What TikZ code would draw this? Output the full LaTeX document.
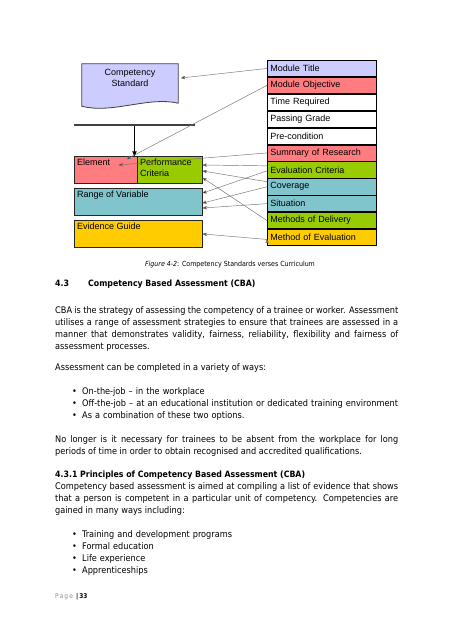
\documentclass[tikz,border=0pt]{standalone}
\usepackage{fontspec}
\setmainfont{DejaVu Sans Condensed}[
	BoldFont={DejaVu Sans Condensed Bold},
	ItalicFont={DejaVu Sans Condensed Oblique}]
\newfontfamily\diafont{Liberation Sans}
\usetikzlibrary{positioning, arrows, backgrounds}

\definecolor{lavender}{HTML}{CCCCFF}
\definecolor{rosepink}{HTML}{FF7C80}
\definecolor{leafgreen}{HTML}{99CC00}
\definecolor{seateal}{HTML}{80C4CC}
\definecolor{goldyellow}{HTML}{FFCC00}

\newcommand{\bul}{\makebox[10pt][l]{\textbullet}}

\tikzset{
	cell/.style={
		rectangle,
		draw=black, line width=0.7pt,
		minimum width=109pt, minimum height=16.2pt,
		text width=103pt, inner xsep=3pt, inner ysep=0pt,
		align=left,
		font=\diafont\fontsize{9}{10.5}\selectfont,
	},
	block/.style={
		rectangle,
		draw=black!85, line width=0.9pt,
		anchor=north west,
		inner sep=0pt,
	},
	blocktext/.style={
		anchor=north west, inner sep=3pt, align=left,
		font=\diafont\fontsize{9}{11}\selectfont,
	},
	link/.style={->, >=stealth', draw=black!55, line width=0.45pt},
	body/.style={
		anchor=base west, inner sep=0pt,
		text width=343pt, align=justify,
		font=\fontsize{9.1}{12}\selectfont,
	},
	head/.style={anchor=base west, inner sep=0pt, font=\bfseries\fontsize{8.7}{12}\selectfont},
}

\begin{document}
\begin{tikzpicture}[x=1pt, y=-1pt]
	\useasboundingbox (0,0) rectangle (453,640);
	\begin{scope}[on background layer]
		\fill[white] (0,0) rectangle (453,640);
	\end{scope}

	% curriculum side
	\node[cell, fill=lavender, anchor=north west] (mt) at (267,60) {Module Title};
	\node[cell, fill=rosepink, below=0pt of mt] (mo) {Module Objective};
	\node[cell, fill=white, below=0pt of mo] (tr) {Time Required};
	\node[cell, fill=white, below=0pt of tr] (pg) {Passing Grade};
	\node[cell, fill=white, below=0pt of pg] (pre) {Pre-condition};
	\node[cell, fill=rosepink, below=0pt of pre] (sr) {Summary of Research};
	\node[cell, fill=leafgreen, below=0pt of sr] (ec) {Evaluation Criteria};
	\node[cell, fill=seateal, below=0pt of ec] (cov) {Coverage};
	\node[cell, fill=seateal, below=0pt of cov] (sit) {Situation};
	\node[cell, fill=leafgreen, below=0pt of sit] (md) {Methods of Delivery};
	\node[cell, fill=goldyellow, below=0pt of md] (me) {Method of Evaluation};

	% competency standard side
	\node[font=\diafont\fontsize{9}{10.6}\selectfont, align=center,
		minimum width=96pt, minimum height=28pt, inner sep=0pt] (cs) at (130,78) {Competency\\Standard};
	\begin{scope}[on background layer]
		\draw[draw=black!75, line width=0.8pt, fill=lavender]
			(cs.north west) -- (cs.north east) -- ([yshift=-11pt]cs.south east)
			.. controls ([xshift=-30pt,yshift=-4pt]cs.south east) and ([xshift=30pt,yshift=-22pt]cs.south west)
			.. ([yshift=-14pt]cs.south west) -- cycle;
	\end{scope}
	\node[fill=black!75, minimum width=121pt, minimum height=2.2pt, inner sep=0pt] (bar) at (134.5,125) {};

	\node[block, fill=rosepink, minimum width=63pt, minimum height=27pt] (el) at (74,156) {};
	\node[block, fill=leafgreen, minimum width=65pt, minimum height=27pt] (pcr) at (137,156) {};
	\node[block, fill=seateal, minimum width=128pt, minimum height=27pt] (rv) at (74,188) {};
	\node[block, fill=goldyellow, minimum width=128pt, minimum height=27pt] (eg) at (74,220) {};
	\node[blocktext] (eltext) at (el.north west) {Element};
	\node[blocktext] (pctext) at (pcr.north west) {Performance\\Criteria};
	\node[blocktext] (rvtext) at (rv.north west) {Range of Variable};
	\node[blocktext] (egtext) at (eg.north west) {Evidence Guide};

	\draw[->, >=stealth', line width=0.8pt] (bar.south) -- (bar.south |- el.north);

	\path[link] (mt.west) edge ([xshift=3pt]cs.east)
		(mo.west) edge ([xshift=-11pt,yshift=-3pt]el.north east)
		(sr.west) edge ([xshift=-19pt,yshift=-9pt]el.north east)
		([yshift=4pt]ec.west) edge ([yshift=-9pt]pcr.north east)
		([yshift=5pt]cov.west) edge ([yshift=-15pt]pcr.north east)
		(md.west) edge ([yshift=-22pt]pcr.north east)
		([yshift=-1pt]ec.west) edge ([yshift=-5pt]rv.north east)
		(cov.west) edge ([yshift=-15pt]rv.north east)
		(sit.west) edge ([yshift=-20pt]rv.north east)
		([yshift=-2pt]me.west) edge (eg.east)
		;

	% page text
	\node[anchor=base, inner sep=0pt, font=\fontsize{7}{9}\selectfont] (cap) at (230,266.5)
		{\textit{Figure 4-2}: Competency Standards verses Curriculum};
	\node[head] (h1num) at (55,286) {4.3};
	\node[head] (h1) at (88,286) {Competency Based Assessment (CBA)};
	\node[body] (p1) at (55,313.5) {CBA is the strategy of assessing the competency of a trainee or worker. Assessment\linebreak
		utilises a range of assessment strategies to ensure that trainees are assessed in a\linebreak
		manner that demonstrates validity, fairness, reliability, flexibility and fairness of\linebreak
		assessment processes.};
	\node[body] (p2) at (55,370.5) {Assessment can be completed in a variety of ways:};
	\node[body, align=left, text width=330pt] (l1) at (72,394.5)
		{\bul On-the-job – in the workplace\\
		\bul Off-the-job – at an educational institution or dedicated training environment\\
		\bul As a combination of these two options.};
	\node[body] (p3) at (55,442.5) {No longer is it necessary for trainees to be absent from the workplace for long\linebreak
		periods of time in order to obtain recognised and accredited qualifications.};
	\node[head] (h2) at (55,477.5) {4.3.1 Principles of Competency Based Assessment (CBA)};
	\node[body] (p4) at (55,489.5) {Competency based assessment is aimed at compiling a list of evidence that shows\linebreak
		that a person is competent in a particular unit of competency. Competencies are\linebreak
		gained in many ways including:};
	\node[body, align=left, text width=330pt] (l2) at (72,537.5)
		{\bul Training and development programs\\
		\bul Formal education\\
		\bul Life experience\\
		\bul Apprenticeships};
	\node[anchor=base west, inner sep=0pt, font=\fontsize{6.5}{8}\selectfont] (foot) at (55,598.5)
		{\textcolor{black!45}{P\,a\,g\,e}\enspace\textbf{|\,33}};
\end{tikzpicture}
\end{document}
